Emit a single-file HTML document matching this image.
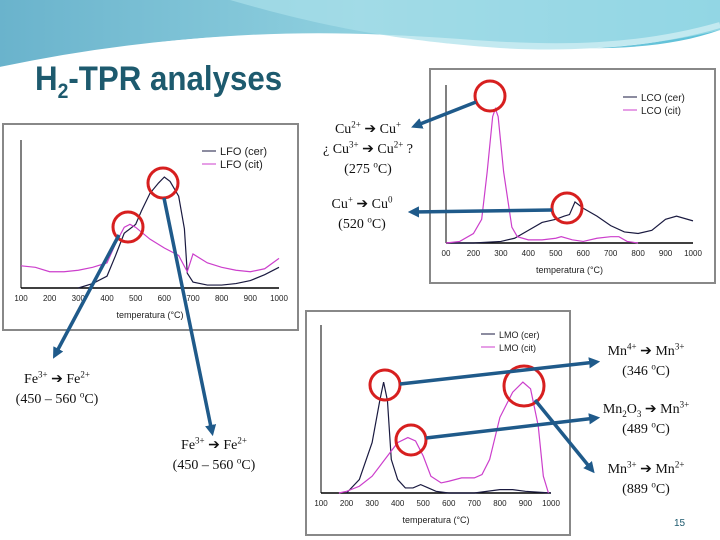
<!DOCTYPE html>
<html><head><meta charset="utf-8"><style>
body{margin:0;width:720px;height:540px;overflow:hidden;background:#fff;font-family:"Liberation Sans",sans-serif;position:relative}
.t{position:absolute;font-family:"Liberation Serif",serif;font-size:14px;color:#111;text-align:center;white-space:nowrap;transform:translateX(-50%);line-height:20px}
.t sup,.t sub{font-size:9px;line-height:0}
</style></head><body>
<svg id="s" width="720" height="540" style="position:absolute;left:0;top:0">
<defs>
<linearGradient id="hg" x1="0" x2="1"><stop offset="0" stop-color="#6ab3cc"/><stop offset="0.5" stop-color="#8fd0df"/><stop offset="1" stop-color="#5cc0d8"/></linearGradient>
<marker id="ah" markerWidth="3.2" markerHeight="3.2" refX="2" refY="1.6" orient="auto" markerUnits="strokeWidth"><path d="M0,0 L3.2,1.6 L0,3.2 z" fill="#1f5a8a"/></marker>
</defs>
<g>
<path d="M0,0 H720 V30 C650,55 560,50 460,40 C300,25 150,35 0,70 Z" fill="url(#hg)"/>
<path d="M0,70 C150,38 300,30 460,42 C560,50 640,48 720,25" fill="none" stroke="#fff" stroke-width="6"/>
<path d="M230,0 C300,20 380,40 500,48 C600,54 680,40 720,30 V0 Z" fill="#a9e0ea" opacity="0.7"/>
</g>
<g id="charts"></g>
</svg>
<div style="position:absolute;left:35px;top:60px;font-size:34px;font-weight:bold;color:#1d5a6e;font-family:'Liberation Sans',sans-serif;transform:scaleX(0.92);transform-origin:0 0;white-space:nowrap">H<sub style="font-size:21px">2</sub>-TPR analyses</div>
<div class="t" style="left:368px;top:120px">Cu<sup>2+</sup> ➔ Cu<sup>+</sup><br>¿ Cu<sup>3+</sup> ➔ Cu<sup>2+</sup> ?<br>(275 <sup>o</sup>C)</div>
<div class="t" style="left:362px;top:195px">Cu<sup>+</sup> ➔ Cu<sup>0</sup><br>(520 <sup>o</sup>C)</div>
<div class="t" style="left:57px;top:370px">Fe<sup>3+</sup> ➔ Fe<sup>2+</sup><br>(450 – 560 <sup>o</sup>C)</div>
<div class="t" style="left:214px;top:436px">Fe<sup>3+</sup> ➔ Fe<sup>2+</sup><br>(450 – 560 <sup>o</sup>C)</div>
<div class="t" style="left:646px;top:342px">Mn<sup>4+</sup> ➔ Mn<sup>3+</sup><br>(346 <sup>o</sup>C)</div>
<div class="t" style="left:646px;top:400px">Mn<sub>2</sub>O<sub>3</sub> ➔ Mn<sup>3+</sup><br>(489 <sup>o</sup>C)</div>
<div class="t" style="left:646px;top:460px">Mn<sup>3+</sup> ➔ Mn<sup>2+</sup><br>(889 <sup>o</sup>C)</div>
<div style="position:absolute;left:674px;top:518px;font-size:10px;color:#1d5a6e">15</div>
<script>
const ticks=[100,200,300,400,500,600,700,800,900,1000];
const lfoCerT=[300,350,400,430,460,500,520,550,580,600,620,650,670,680,700,750,800,850,900,950,1000];
const lfoCerV=[0,3,8,22,37,43,52,64,71,75,72,62,40,10,4,2,2,3,5,9,14];
const lfoCitT=[100,150,200,250,300,350,400,430,460,480,500,550,600,650,680,700,750,800,850,900,950,1000];
const lfoCitV=[15,14,11,11,12,14,17,30,41,43,41,33,27,22,11,23,17,14,12,11,13,20];
const lcoCerT=[100,200,300,350,400,450,500,530,550,570,600,650,700,750,800,850,900,940,1000];
const lcoCerV=[0,0,1,3,8,13,15,17,18,26,22,17,11,7,6,8,15,17,14];
const lcoCitT=[100,150,200,230,250,270,280,290,310,340,360,400,450,500,520,560,600,650,700,730,760,800];
const lcoCitV=[0,1,6,15,45,80,85,80,45,10,4,2,2,3,4,2,1,3,4,4,1,0];
const lmoCerT=[200,250,300,330,345,360,375,400,430,460,490,520,550,600,700,800,850,900,1000];
const lmoCerV=[0,8,30,55,66,55,20,8,3,3,5,3,1,0,0,2,2,1,0];
const lmoCitT=[170,200,250,300,350,400,440,470,500,530,570,600,650,700,730,760,800,850,890,920,950,970,990];
const lmoCitV=[0,1,4,10,20,30,33,31,22,10,6,7,9,9,11,20,45,60,66,62,40,10,0];
const NS="http://www.w3.org/2000/svg";
const G=document.getElementById('charts');
function mk(tag,at,par){const e=document.createElementNS(NS,tag);for(const k in at)e.setAttribute(k,at[k]);(par||G).appendChild(e);return e;}
function chart(c){
 const g=mk('g',{});
 
 
 const fr=mk('rect',{x:c.fx,y:c.fy,width:c.fw,height:c.fh,fill:'#fff',stroke:'#888','stroke-width':2},g);
 
 
 const sx=t=>c.x0+(t-100)/900*(c.x1-c.x0);
 const sy=v=>c.y1-v/100*(c.y1-c.y0);
 mk('line',{x1:c.x0,y1:c.y0,x2:c.x0,y2:c.y1,stroke:'#000','stroke-width':1},g);
 mk('line',{x1:c.x0,y1:c.y1,x2:c.x1,y2:c.y1,stroke:'#000','stroke-width':1.5},g);
 ticks.forEach((t,i)=>{const tx=mk('text',{x:sx(t),y:c.y1+13,'font-size':8,'text-anchor':'middle',fill:'#222','font-family':'Liberation Sans'},g);tx.textContent=(c.first&&i==0)?c.first:t;
  
  });
 const xl=mk('text',{x:(c.x0+c.x1)/2,y:c.y1+30,'font-size':9,'text-anchor':'middle',fill:'#222','font-family':'Liberation Sans'},g);xl.textContent='temperatura (°C)';
 
 
 [[c.cerT,c.cerV,'#1a1a40'],[c.citT,c.citV,'#cc3fcc']].forEach(([T,V,col])=>{
  const p=mk('polyline',{points:T.map((t,i)=>sx(t)+','+sy(V[i])).join(' '),fill:'none',stroke:col,'stroke-width':1.2},g);
  
  
 });
 c.leg.forEach((l,i)=>{const y=c.ly+i*13;mk('line',{x1:c.lx,y1:y-4,x2:c.lx+14,y2:y-4,stroke:i?'#cc3fcc':'#1a1a40'},g);
  const tx=mk('text',{x:c.lx+18,y:y,'font-size':c.lf,fill:'#222','font-family':'Liberation Sans'},g);tx.textContent=l;
  
  });
}
chart({name:'lfo-chart',fx:3,fy:124,fw:295,fh:206,x0:21,x1:279,y0:140,y1:288,cerT:lfoCerT,cerV:lfoCerV,citT:lfoCitT,citV:lfoCitV,leg:['LFO (cer)','LFO (cit)'],lx:202,ly:155,lf:11});
chart({name:'lco-chart',fx:430,fy:69,fw:285,fh:214,x0:446,x1:693,y0:85,y1:243,cerT:lcoCerT,cerV:lcoCerV,citT:lcoCitT,citV:lcoCitV,leg:['LCO (cer)','LCO (cit)'],lx:623,ly:101,lf:10,first:'00'});
chart({name:'lmo-chart',fx:306,fy:311,fw:264,fh:224,x0:321,x1:551,y0:325,y1:493,cerT:lmoCerT,cerV:lmoCerV,citT:lmoCitT,citV:lmoCitV,leg:['LMO (cer)','LMO (cit)'],lx:481,ly:338,lf:9});
const circles=[[163,183,15],[128,227,15],[490,96,15],[567,208,15],[385,385,15],[411,440,15],[524,386,20]];
circles.forEach(([x,y,r])=>{const c=mk('circle',{cx:x,cy:y,r:r,fill:'none',stroke:'#d71f1f','stroke-width':3});
 
 });
const arrows=[[476,102,415,126],[552,210,412,212],[119,235,55,355],[164,198,212,432],[400,384,596,362],[426,438,596,418],[535,400,592,470]];
arrows.forEach(([a,b,c2,d])=>{const l=mk('line',{x1:a,y1:b,x2:c2,y2:d,stroke:'#1f5a8a','stroke-width':3.5,'marker-end':'url(#ah)'});
 
 });
</script>
</body></html>
